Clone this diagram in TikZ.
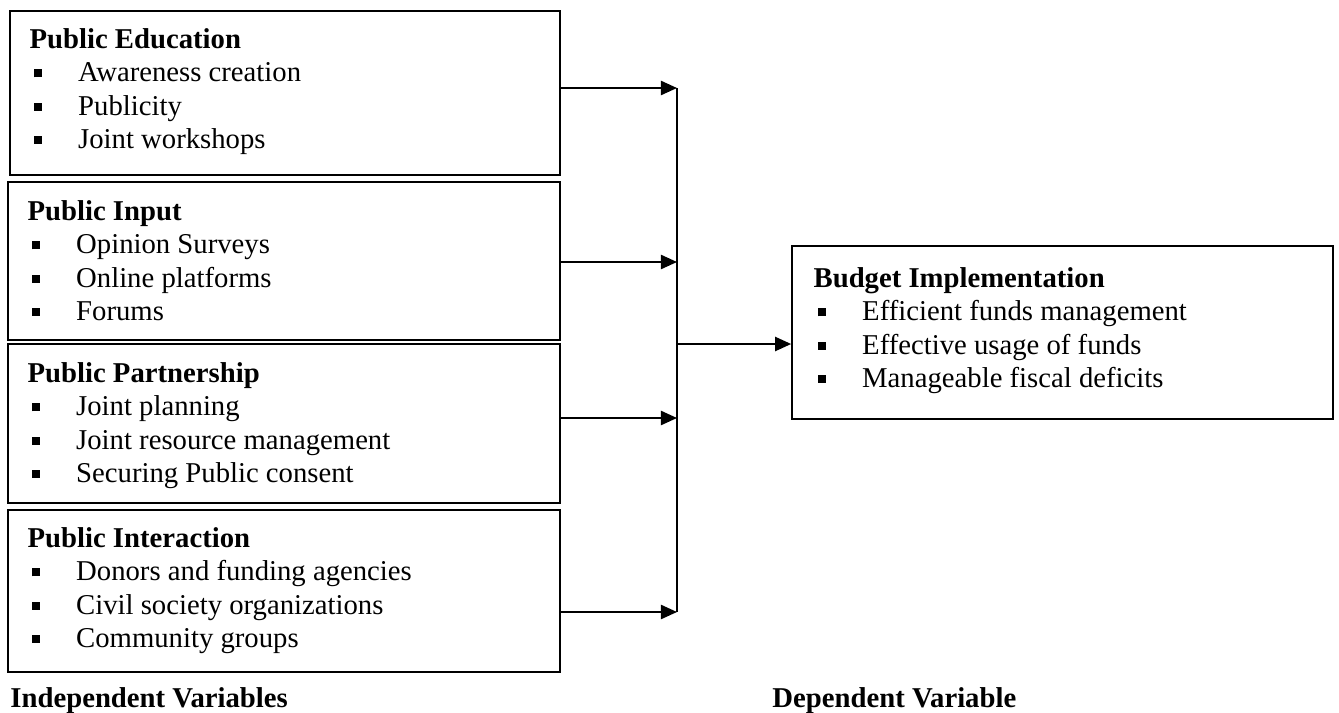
\documentclass[tikz,border=0pt]{standalone}
\usepackage{fontspec}
\setmainfont{Liberation Serif}
\usetikzlibrary{arrows.meta,fit}

\newcommand{\bul}{\makebox[20.3pt][l]{\hspace{1.8pt}\rule[1.9pt]{3.3pt}{3.3pt}}}

\tikzset{
  box/.style={draw, line width=0.7pt, inner sep=0pt},
  txt/.style={anchor=north west, inner sep=0pt, align=left, font=\fontsize{12}{13.9}\selectfont},
  arr/.style={line width=0.8pt, -{Triangle[length=6.7pt,width=5.9pt]}}
}

\begin{document}
\begin{tikzpicture}[x=0.418pt, y=-0.418pt]
\useasboundingbox (0,0) rectangle (1339,713);

% independent variables
\node[box, fit={(10,11) (560,175)}] (edu) {};
\node[txt] (edu-t) at ([shift={(20,18)}]edu.north west)
  {\textbf{Public Education}\\ \bul Awareness creation\\ \bul Publicity\\ \bul Joint workshops};

\node[box, fit={(8,182) (560,340)}] (inp) {};
\node[txt] (inp-t) at ([shift={(20,19)}]inp.north west)
  {\textbf{Public Input}\\ \bul Opinion Surveys\\ \bul Online platforms\\ \bul Forums};

\node[box, fit={(8,344) (560,503)}] (par) {};
\node[txt] (par-t) at ([shift={(20,19)}]par.north west)
  {\textbf{Public Partnership}\\ \bul Joint planning\\ \bul Joint resource management\\ \bul Securing Public consent};

\node[box, fit={(8,510) (560,672)}] (int) {};
\node[txt] (int-t) at ([shift={(20,18)}]int.north west)
  {\textbf{Public Interaction}\\ \bul Donors and funding agencies\\ \bul Civil society organizations\\ \bul Community groups};

% dependent variable
\node[box, fit={(792,246) (1333,419)}] (bud) {};
\node[txt] (bud-t) at ([shift={(22,22)}]bud.north west)
  {\textbf{Budget Implementation}\\ \bul Efficient funds management\\ \bul Effective usage of funds\\ \bul Manageable fiscal deficits};

% captions
\node[anchor=base west, inner sep=0pt, font=\fontsize{12}{13.9}\selectfont\bfseries] (iv) at (10,707) {Independent Variables};
\node[anchor=base west, inner sep=0pt, font=\fontsize{12}{13.9}\selectfont\bfseries] (dv) at (772,707) {Dependent Variable};

% connectors
\coordinate (j1) at (677,88);
\coordinate (j2) at (677,262);
\coordinate (j3) at (677,418);
\coordinate (j4) at (677,612);
\coordinate (bus) at (677,344);

\draw[arr] (edu.east |- j1) -- (j1);
\draw[arr] (inp.east |- j2) -- (j2);
\draw[arr] (par.east |- j3) -- (j3);
\draw[arr] (int.east |- j4) -- (j4);
\draw[line width=0.8pt] (j1) -- (j4);
\draw[arr] (bus) -- (bud.west |- bus);
\end{tikzpicture}
\end{document}
